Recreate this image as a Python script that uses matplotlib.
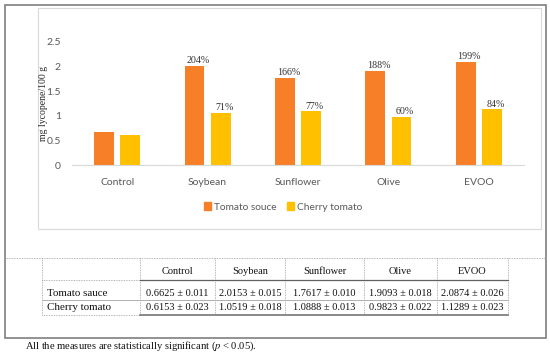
import numpy as np
import matplotlib
matplotlib.use('Agg')
import matplotlib.pyplot as plt
from matplotlib.lines import Line2D
from matplotlib.patches import Rectangle, Patch

W, H = 550, 355

categories = ['Control', 'Soybean', 'Sunflower', 'Olive', 'EVOO']
sauce_vals = [0.6625, 2.0153, 1.7617, 1.9093, 2.0874]
sauce_sd = [0.011, 0.015, 0.010, 0.018, 0.026]
cherry_vals = [0.6153, 1.0519, 1.0888, 0.9823, 1.1289]
cherry_sd = [0.023, 0.018, 0.013, 0.022, 0.023]
sauce_labels = ['', '204%', '166%', '188%', '199%']
cherry_labels = ['', '71%', '77%', '60%', '84%']
series_names = ['Tomato souce', 'Cherry tomato']
row_names = ['Tomato sauce', 'Cherry tomato']
yticks = [0, 0.5, 1, 1.5, 2, 2.5]

ORANGE = '#F77F27'
GOLD = '#FFC000'
GRAY_TXT = '#595959'
SERIF = 'Liberation Serif'
SANS = 'Lato'


def px(x, y):
    # pixel coords (from top-left) -> figure fraction
    return x / W, 1 - y / H


def hline(fig, x0, x1, y, **kw):
    a, b = px(x0, y)
    c, _ = px(x1, y)
    fig.add_artist(Line2D([a, c], [b, b], transform=fig.transFigure, **kw))


def vline(fig, x, y0, y1, **kw):
    a, b = px(x, y0)
    _, d = px(x, y1)
    fig.add_artist(Line2D([a, a], [b, d], transform=fig.transFigure, **kw))


fig = plt.figure(figsize=(W / 100, H / 100), dpi=100)

# frames
x0, y0 = px(5, 338)
fig.add_artist(Rectangle((x0, y0), 541 / W, 333 / H, transform=fig.transFigure,
                         fill=False, edgecolor='#7f7f7f', lw=1.2))
x0, y0 = px(38, 229)
fig.add_artist(Rectangle((x0, y0), 503 / W, 221 / H, transform=fig.transFigure,
                         fill=False, edgecolor='#d9d9d9', lw=0.8))

# bar chart
left, bottom = px(72, 165)
ax = fig.add_axes([left, bottom, (524 - 72) / W, (165 - 41.7) / H])
x = np.arange(len(categories))
w = 0.22
off = 0.145
b1 = ax.bar(x - off, sauce_vals, w, color=ORANGE)
b2 = ax.bar(x + off, cherry_vals, w, color=GOLD)
for bars, labs in ((b1, sauce_labels), (b2, cherry_labels)):
    for bar, lab in zip(bars, labs):
        if lab:
            ax.annotate(lab, (bar.get_x() + bar.get_width() / 2, bar.get_height()),
                        xytext=(2.5, 0.5), textcoords='offset points', ha='center', va='bottom',
                        fontsize=7.2, family=SERIF, color='#333333', annotation_clip=False)

ax.set_xlim(-0.5, len(categories) - 0.5)
ax.set_ylim(0, 2.5)
ax.set_yticks(yticks)
ax.set_yticklabels([f'{t:g}' for t in yticks], family=SANS, fontsize=7.5, color=GRAY_TXT)
ax.set_xticks(x)
ax.set_xticklabels(categories, family=SANS, fontsize=7.5, color=GRAY_TXT)
ax.tick_params(length=0)
ax.tick_params(axis='x', pad=9)
ax.tick_params(axis='y', pad=8)
for s in ['top', 'right', 'left']:
    ax.spines[s].set_visible(False)
ax.spines['bottom'].set_color('#d9d9d9')
ax.spines['bottom'].set_linewidth(0.8)

fx, fy = px(43, 103)
fig.text(fx, fy, 'mg lycopene/100 g', rotation=90, ha='center', va='center',
         family=SERIF, fontsize=7, color='#262626')

handles = [Patch(color=ORANGE), Patch(color=GOLD)]
lx, ly = px(283, 207)
leg = fig.legend(handles, series_names, loc='center', bbox_to_anchor=(lx, ly), ncol=2,
                 frameon=False, handlelength=0.7, handleheight=0.7, handletextpad=0.3,
                 columnspacing=1.0, prop={'family': SANS, 'size': 7.3})
for t in leg.get_texts():
    t.set_color(GRAY_TXT)

# table
cols = [42, 140, 215, 285, 364, 437, 508]
dot = dict(color='#a0a0a0', lw=0.6, linestyle=(0, (1, 1)))
hline(fig, 5, 546, 258, **dot)
for cx in cols:
    vline(fig, cx, 258, 315, **dot)
hline(fig, 42, 140, 280, **dot)
hline(fig, 140, 508, 280, color='#606060', lw=0.9)
hline(fig, 42, 508, 300, color='#b0b0b0', lw=0.7)
hline(fig, 42, 140, 315, **dot)
hline(fig, 140, 508, 315, color='#808080', lw=1.3)

tf = dict(family=SERIF, fontsize=7.5, color='#111111', va='center')
for i, name in enumerate(categories):
    cx = (cols[i + 1] + cols[i + 2]) / 2
    fig.text(*px(cx, 272), name, ha='center', **tf)
for r, (name, vals, sds) in enumerate(((row_names[0], sauce_vals, sauce_sd),
                                       (row_names[1], cherry_vals, cherry_sd))):
    ry = 293 + r * 14.5
    fig.text(*px(47, ry), name, ha='left', **dict(tf, fontsize=7.9))
    for i, (v, s) in enumerate(zip(vals, sds)):
        cx = (cols[i + 1] + cols[i + 2]) / 2
        fig.text(*px(cx, ry), f'{v:.4f} ± {s:.3f}', ha='center', **tf)

fig.text(*px(25, 346), 'All the measures are statistically significant ($p$ < 0.05).',
         family=SERIF, fontsize=7.6, color='#111111', ha='left', va='center',
         math_fontfamily='stix')

fig.savefig('out.png', dpi=100)
